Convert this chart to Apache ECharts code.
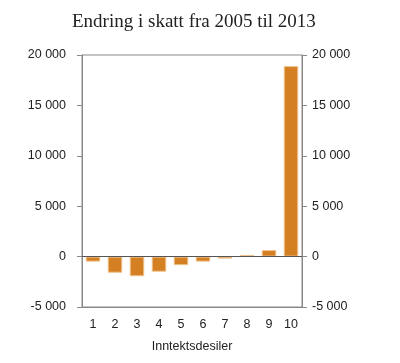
<!DOCTYPE html>
<html><head><meta charset="utf-8">
<script src="https://cdn.jsdelivr.net/npm/echarts@6/dist/echarts.min.js"></script>
<style>html,body{margin:0;padding:0;background:#fff}#c{width:400px;height:363px}</style>
</head><body><div id="c"></div>
<script>
const categories = ['1','2','3','4','5','6','7','8','9','10'];
const values = [-500, -1600, -1950, -1500, -850, -500, -200, 150, 650, 18900];
const titleText = 'Endring i skatt fra 2005 til 2013';
const xName = 'Inntektsdesiler';

const fmt = v => {
  const s = Math.abs(v).toString().replace(/\B(?=(\d{3})+(?!\d))/g, ' ');
  return (v < 0 ? '-' : '') + s;
};
const FS = 12.5;
const FF = 'Liberation Sans, Arial, sans-serif';
const yAxisBase = {
  type: 'value', min: -5000, max: 20000, interval: 5000,
  axisLine: {show: true, lineStyle: {color: '#888', width: 1}},
  axisTick: {show: true, length: 5, lineStyle: {color: '#888'}},
  splitLine: {show: false},
  axisLabel: {color: '#222', fontSize: FS, fontFamily: FF, formatter: fmt}
};
const chart = echarts.init(document.getElementById('c'));
chart.setOption({
  animation: false,
  title: {text: titleText, left: 67, top: 8,
    textStyle: {fontFamily: 'Liberation Serif, Times New Roman, serif', fontWeight: 'normal', fontSize: 19, color: '#222'}},
  grid: {left: 82, right: 98, top: 55, bottom: 56, show: true, borderColor: '#888', borderWidth: 1,
    containLabel: false, outerBoundsMode: 'none'},
  xAxis: {
    type: 'category', data: categories, name: xName, nameLocation: 'middle', nameGap: 33,
    nameTextStyle: {color: '#222', fontSize: FS, fontFamily: FF},
    axisLine: {show: true, onZero: false, lineStyle: {color: '#888'}},
    axisTick: {show: false},
    axisLabel: {color: '#222', fontSize: FS, fontFamily: FF, margin: 11}
  },
  yAxis: [
    Object.assign({}, yAxisBase, {position: 'left', axisLabel: Object.assign({}, yAxisBase.axisLabel, {margin: 16})}),
    Object.assign({}, yAxisBase, {position: 'right', axisLabel: Object.assign({}, yAxisBase.axisLabel, {margin: 10})})
  ],
  series: [{
    type: 'bar', data: values, barWidth: '66%',
    itemStyle: {color: '#d48022', borderColor: '#f0c38e', borderWidth: 1},
    markLine: {silent: true, symbol: 'none', label: {show: false},
      lineStyle: {color: '#555', type: 'solid', width: 1}, data: [{yAxis: 0}]}
  }]
});
</script></body></html>
